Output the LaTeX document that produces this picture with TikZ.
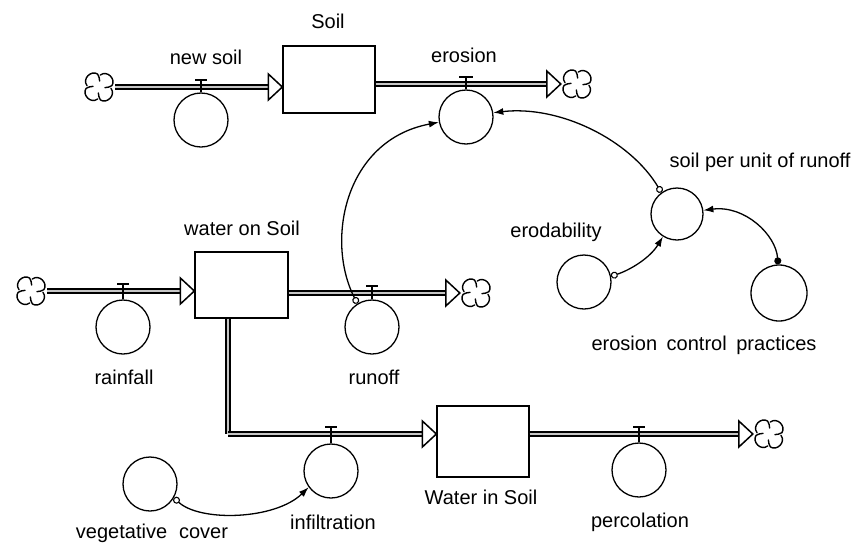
\documentclass[tikz,border=0pt]{standalone}
\usepackage{fontspec}
\setmainfont{Liberation Sans}
\usetikzlibrary{arrows.meta,calc}
\tikzset{
  conv/.style={circle,draw,line width=1.3pt,minimum size=54pt,inner sep=0pt,fill=white},
  stock/.style={rectangle,draw,line width=1.3pt,inner sep=0pt,fill=white},
  cloudnode/.style={circle,minimum size=32pt,inner sep=0pt},
  txt/.style={inner sep=0pt,font=\fontsize{20}{22}\selectfont},
  pipe/.style={draw,line width=2pt,double=gray!45,double distance=1.3pt,shorten >=13pt},
  pipeplain/.style={draw,line width=2pt,double=gray!45,double distance=1.3pt},
  flowtip/.pic={\draw[line width=1.5pt,fill=white,line join=miter] (0,0) -- (-14,-13) -- (-14,13) -- cycle;},
  valveline/.style={line width=1.3pt},
  valvebar/.style={line width=2pt},
  link/.style={line width=1.3pt,{Circle[open,length=7pt,line width=1.1pt]}-{Latex[length=10pt,width=7pt]}},
  cloudpic/.pic={
    \foreach \a in {0,90,180,270}{
      \draw[line width=1.4pt,rotate=\a,line cap=round,line join=round]
        (6:12) .. controls (25:19) and (65:19) .. (84:13)
        .. controls (88:10) and (96:9) .. (96:6);
    }
  }
}
\begin{document}
\begin{tikzpicture}[x=1pt,y=-1pt]
\useasboundingbox (0,0) rectangle (858,544);

% stocks
\node[stock,minimum width=92pt,minimum height=67pt] (soil) at (329,79.5) {};
\node[stock,minimum width=93pt,minimum height=66pt] (wos) at (241.5,285) {};
\node[stock,minimum width=92pt,minimum height=71pt] (wis) at (483,441.5) {};

% clouds
\node[cloudnode] (c1) at (99,87) {};
\node[cloudnode] (c2) at (577,84) {};
\node[cloudnode] (c3) at (31,291) {};
\node[cloudnode] (c4) at (476,293) {};
\node[cloudnode] (c5) at (769,434) {};
\pic at (c1) {cloudpic};
\pic at (c2) {cloudpic};
\pic at (c3) {cloudpic};
\pic at (c4) {cloudpic};
\pic at (c5) {cloudpic};

% pipes
\path[pipe] (c1.east) -- (c1 -| soil.west);
\path[pipe] (c2 -| soil.east) -- (c2.west);
\path[pipe] (c3.east) -- (c3 -| wos.west);
\path[pipe] (c4 -| wos.east) -- (c4.west);
\coordinate (bend) at (228,434);
\path[pipeplain] (wos.south -| bend) -- (bend);
\path[pipe] (bend) -- (bend -| wis.west);
\path[pipe] (c5 -| wis.east) -- (c5.west);

\pic at (c1 -| soil.west) {flowtip};
\pic at (c2.west) {flowtip};
\pic at (c3 -| wos.west) {flowtip};
\pic at (c4.west) {flowtip};
\pic at (bend -| wis.west) {flowtip};
\pic at (c5.west) {flowtip};

% converters
\node[conv] (newsoilv) at (201,120) {};
\node[conv] (erosionv) at (466,117) {};
\node[conv] (rainfallv) at (123,327) {};
\node[conv] (runoffv) at (372,327) {};
\node[conv] (infilt) at (331,471) {};
\node[conv] (percv) at (639,470) {};
\node[conv,minimum size=52pt] (spur) at (677,214) {};
\node[conv] (erod) at (584,282) {};
\node[conv,minimum size=56pt] (ecp) at (779,293) {};
\node[conv] (veg) at (150,484) {};

% valves
\draw[valveline] (newsoilv.north) -- ($(newsoilv.north |- c1)+(0,-7)$) coordinate (t1);
\draw[valvebar] (t1) +(-6,0) -- +(6,0);
\draw[valveline] (erosionv.north) -- ($(erosionv.north |- c2)+(0,-7)$) coordinate (t2);
\draw[valvebar] (t2) +(-7,0) -- +(7,0);
\draw[valveline] (rainfallv.north) -- ($(rainfallv.north |- c3)+(0,-7)$) coordinate (t3);
\draw[valvebar] (t3) +(-6,0) -- +(6,0);
\draw[valveline] (runoffv.north) -- ($(runoffv.north |- c4)+(0,-7)$) coordinate (t4);
\draw[valvebar] (t4) +(-6,0) -- +(6,0);
\draw[valveline] (infilt.north) -- ($(infilt.north |- bend)+(0,-7)$) coordinate (t5);
\draw[valvebar] (t5) +(-6,0) -- +(6,0);
\draw[valveline] (percv.north) -- ($(percv.north |- c5)+(0,-7)$) coordinate (t6);
\draw[valvebar] (t6) +(-6,0) -- +(6,0);

% connectors
\draw[link] (runoffv.122) .. controls (325,240) and (345,140) .. (erosionv.191);
\draw[link] (spur.126) .. controls (630,140) and (560,105) .. (erosionv.9);
\draw[link] (erod.12) .. controls (630,270) and (650,258) .. (spur.238);
\draw[line width=1.3pt,{Circle[length=7pt]}-{Latex[length=10pt,width=7pt]}] (ecp.92) .. controls (776,235) and (745,205) .. (spur.8);
\draw[link] (veg.330) .. controls (200,522) and (275,520) .. (infilt.216);

% labels
\node[txt] (lsoil) at (328,21) {Soil};
\node[txt] (lnewsoil) at (206,57) {new soil};
\node[txt] (lerosion) at (464,55) {erosion};
\node[txt] (lwos) at (242,228) {water on Soil};
\node[txt] (lrain) at (124,377) {rainfall};
\node[txt] (lrunoff) at (374,377) {runoff};
\node[txt] (lspur) at (760,162) {soil per unit of runoff};
\node[txt] (lerod) at (556,232) {erodability};
\node[txt] (lecp) at (704,345) {\spaceskip=0.48em\relax erosion control practices};
\node[txt] (lwis) at (481,497) {Water in Soil};
\node[txt] (linf) at (333,522) {infiltration};
\node[txt] (lperc) at (640,522) {percolation};
\node[txt] (lveg) at (152,533) {\spaceskip=0.6em\relax vegetative cover};
\end{tikzpicture}
\end{document}
